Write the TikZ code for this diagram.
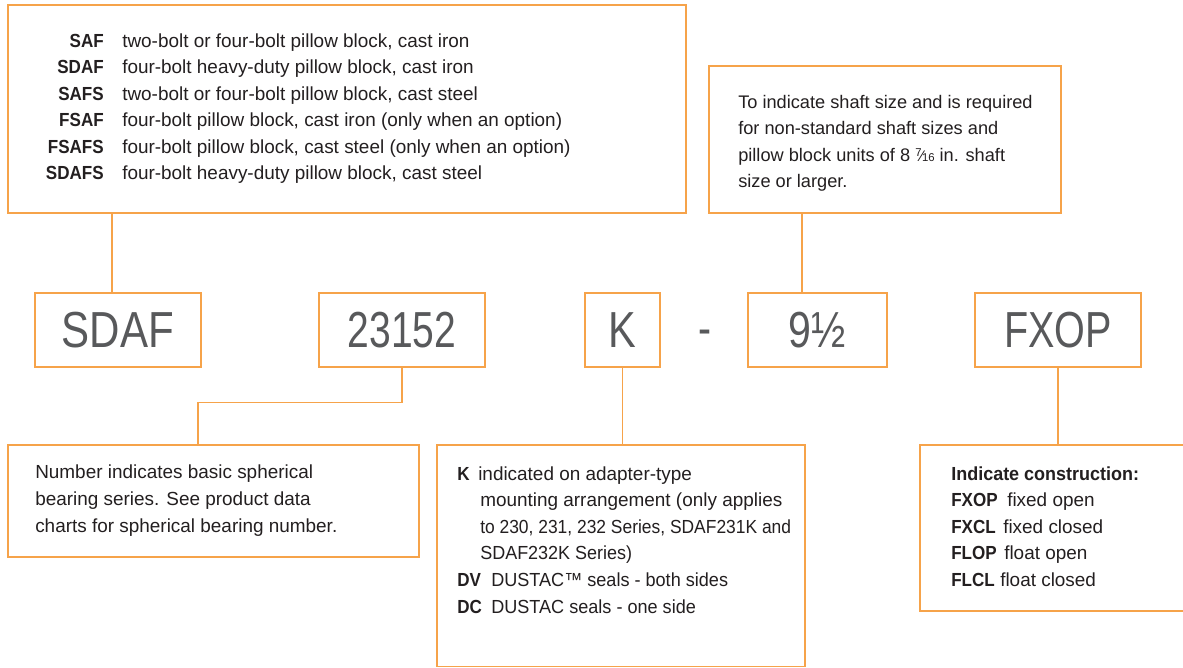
\documentclass[tikz,border=0pt]{standalone}
\usepackage{fontspec}
\setmainfont{Liberation Sans}
\usepackage{graphicx}
\definecolor{orline}{RGB}{246,163,74}
\definecolor{codegray}{RGB}{88,89,91}
\definecolor{bodyblack}{RGB}{35,31,32}
\newcommand\bodysize{\fontsize{14.2}{17}\selectfont}
\newcommand\trsize{\fontsize{13.65}{17}\selectfont}
\newcommand\codetxt[2][0.77]{\fontsize{38}{40}\selectfont\scalebox{#1}[1]{#2}}
\newcommand\mylbl[1]{\scalebox{0.9}[1]{\bfseries #1}}
\newcommand\sqz[2]{\scalebox{#1}[1]{#2}}
\newcommand\sevsixteen{{\fontsize{8.5}{9}\selectfont\raisebox{3.6pt}{7}}\kern-0.8pt{\fontsize{11.5}{12}\selectfont\char"2044}\kern-0.8pt{\fontsize{8.5}{9}\selectfont 16}}
\begin{document}
\begin{tikzpicture}[x=0.75pt,y=-0.75pt,
  box/.style={draw=orline, line width=1pt, inner sep=0pt, rectangle},
  codebox/.style={box, minimum height=55.5pt, text=codegray},
  conn/.style={draw=orline, line width=1pt},
  txt/.style={anchor=base west, inner sep=0pt, font=\bodysize, text=bodyblack},
  trtxt/.style={txt, font=\trsize},
  lab/.style={anchor=base east, inner sep=0pt, font=\bodysize, text=bodyblack},
  labw/.style={anchor=base west, inner sep=0pt, font=\bodysize, text=bodyblack}]
\useasboundingbox (0,0) rectangle (1183,668);
\fill[white] (0,0) rectangle (1183,668);
\clip (0,0) rectangle (1183,668);

% description boxes
\node[box, minimum width=508.5pt, minimum height=156pt] (tl) at (347,109) {};
\node[box, minimum width=264pt, minimum height=110.25pt] (tr) at (885,139.5) {};
\node[box, minimum width=308.25pt, minimum height=84pt] (bl) at (213.5,501) {};
\node[box, minimum width=276pt, minimum height=166.1pt] (bm) at (621,555.75) {};
\node[box, minimum width=210pt, minimum height=124.5pt] (br) at (1060,528) {};

% code boxes
\node[codebox, minimum width=124.5pt] (sdaf) at (118,330) {\codetxt[0.83]{SDAF}};
\node[codebox, minimum width=124.5pt] (n23) at (402,330) {\codetxt{23152}};
\node[codebox, minimum width=56.25pt] (k) at (622.5,330) {\codetxt[0.82]{K}};
\node[inner sep=0pt, text=codegray] (hy) at (705,338) {\codetxt{-}};
\node[codebox, minimum width=104.25pt] (half) at (817.5,330) {\codetxt[0.81]{9½}};
\node[codebox, minimum width=124.5pt] (fx) at (1058,330) {\codetxt[0.78]{FXOP}};

% connectors
\draw[conn] ([xshift=-4.5pt]sdaf.north) -- ([xshift=-4.5pt]sdaf.north |- tl.south);
\draw[conn] (n23.south) -- ++(0,35) -| ([xshift=-11.6pt]bl.north);
\draw[conn] (k.south) -- (k.south |- bm.north);
\draw[conn] ([xshift=-11.6pt]half.north) -- ([xshift=-11.6pt]half.north |- tr.south);
\draw[conn] (fx.south) -- (fx.south |- br.north);

% top-left texts
\node[lab] (l1) at (104,47) {\mylbl{SAF}};
\node[txt] (d1) at (122,47) {two-bolt or four-bolt pillow block, cast iron};
\node[lab] (l2) at (104,73.5) {\mylbl{SDAF}};
\node[txt] (d2) at (122,73.5) {four-bolt heavy-duty pillow block, cast iron};
\node[lab] (l3) at (104,100) {\mylbl{SAFS}};
\node[txt] (d3) at (122,100) {two-bolt or four-bolt pillow block, cast steel};
\node[lab] (l4) at (104,126.5) {\mylbl{FSAF}};
\node[txt] (d4) at (122,126.5) {four-bolt pillow block, cast iron (only when an option)};
\node[lab] (l5) at (104,153) {\mylbl{FSAFS}};
\node[txt] (d5) at (122,153) {four-bolt pillow block, cast steel (only when an option)};
\node[lab] (l6) at (104,179.5) {\mylbl{SDAFS}};
\node[txt] (d6) at (122,179.5) {four-bolt heavy-duty pillow block, cast steel};

% top-right texts
\node[trtxt] (t1) at (738,108) {To indicate shaft size and is required};
\node[trtxt] (t2) at (738,134.5) {for non-standard shaft sizes and};
\node[trtxt] (t3) at (738,161) {pillow block units of 8\ \sevsixteen\ in. shaft};
\node[trtxt] (t4) at (738,187.5) {size or larger.};

% bottom-left texts
\node[txt] (b1) at (35,478) {Number indicates basic spherical};
\node[txt] (b2) at (35,505) {bearing series. See product data};
\node[txt] (b3) at (35,532) {charts for spherical bearing number.};

% bottom-middle texts
\node[labw] (mk) at (457,480) {\mylbl{K}};
\node[txt] (m1) at (478,480) {indicated on adapter-type};
\node[txt] (m2) at (480,506.6) {mounting arrangement (only applies};
\node[txt] (m3) at (480,533.2) {\sqz{0.92}{to 230, 231, 232 Series, SDAF231K and}};
\node[txt] (m4) at (480,559.8) {\sqz{0.95}{SDAF232K Series)}};
\node[labw] (mdv) at (457,586.4) {\mylbl{DV}};
\node[txt] (m5) at (491,586.4) {\sqz{0.955}{DUSTAC™ seals - both sides}};
\node[labw] (mdc) at (457,613) {\mylbl{DC}};
\node[txt] (m6) at (491,613) {\sqz{0.955}{DUSTAC seals - one side}};

% bottom-right texts
\node[labw] (rh) at (951,480) {\scalebox{0.95}[1]{\bfseries Indicate construction:}};
\node[labw] (r1l) at (951,506.6) {\mylbl{FXOP}};
\node[txt] (r1) at (1007,506.6) {fixed open};
\node[labw] (r2l) at (951,533.2) {\mylbl{FXCL}};
\node[txt] (r2) at (1003,533.2) {fixed closed};
\node[labw] (r3l) at (951,559.8) {\mylbl{FLOP}};
\node[txt] (r3) at (1004,559.8) {float open};
\node[labw] (r4l) at (951,586.4) {\mylbl{FLCL}};
\node[txt] (r4) at (1000,586.4) {float closed};
\end{tikzpicture}
\end{document}
